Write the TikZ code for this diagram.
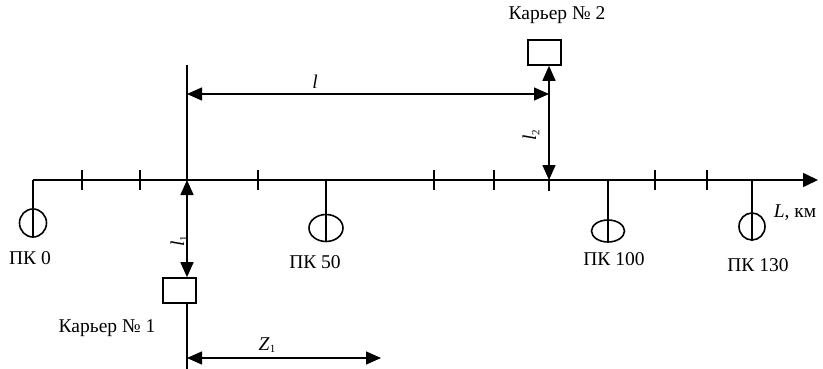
\documentclass[tikz,border=0pt]{standalone}
\usepackage{fontspec}
\setmainfont{Liberation Serif}
\usetikzlibrary{arrows.meta,shapes.geometric}
\begin{document}
\begin{tikzpicture}[x=1pt,y=-1pt,
  ln/.style={line width=1.6pt},
  dim/.style={line width=1.6pt,{Triangle[length=15pt,width=13pt]}-{Triangle[length=15pt,width=13pt]}},
  onearrow/.style={line width=1.6pt,-{Triangle[length=15pt,width=14pt]}},
  pk/.style={draw,line width=1.6pt,ellipse,inner sep=0pt},
  quarry/.style={draw,line width=1.6pt,rectangle,inner sep=0pt,minimum width=33pt,minimum height=25pt},
  lbl/.style={font=\fontsize{19.5}{22}\selectfont,inner sep=0pt},
  tick/.style={line width=1.6pt}]
\useasboundingbox (0,0) rectangle (823,369);
% axis points
\coordinate (a0) at (33,180);
\coordinate (aend) at (818,180);
\coordinate (c1) at (187,180);
\coordinate (c2) at (549,180);
\coordinate (c1top) at (187,65);
\coordinate (c1bot) at (187,369);
\coordinate (z1end) at (381,358);
\coordinate (z1start) at (187,358);
\coordinate (lA) at (187,94);
\coordinate (lB) at (549,94);
% stations
\node[pk,minimum width=27pt,minimum height=28pt] (pk0) at (33,223) {};
\node[pk,minimum width=34pt,minimum height=27pt] (pk50) at (326,228) {};
\node[pk,minimum width=33pt,minimum height=22pt] (pk100) at (608,231) {};
\node[pk,minimum width=26pt,minimum height=27pt] (pk130) at (752,226.5) {};
% quarries
\node[quarry] (q1) at (179.5,290.5) {};
\node[quarry] (q2) at (544.5,52.5) {};
% axis
\draw[onearrow] (a0) -- (aend);
\draw[ln] (a0) -- (pk0.south);
\draw[ln] (326,180) -- (pk50.south);
\draw[ln] (608,180) -- (pk100.south);
\draw[ln] (752,180) -- (pk130.south);
% ticks
\foreach \x in {82,140,258,434,494,655,707} \draw[tick] (\x,170) -- (\x,190);
\draw[tick] (549,180) -- (549,191);
% vertical at quarry 1
\draw[ln] (c1top) -- (c1);
\draw[dim] (c1) -- (c1 |- q1.north);
\draw[ln] (c1 |- q1.south) -- (c1bot);
\draw[dim] (z1start) -- (z1end);
% quarry 2
\draw[dim] (c2 |- q2.south) -- (c2);
\draw[dim] (lA) -- (lB);
% labels
\node[lbl] (t0) at (30,258) {ПК 0};
\node[lbl] (t50) at (315,262) {ПК 50};
\node[lbl] (t100) at (614,259) {ПК 100};
\node[lbl] (t130) at (758,265) {ПК 130};
\node[lbl] (tL) at (795,213) {\textit{L}, км};
\node[lbl] (tq1) at (107,328) {Карьер № 1};
\node[lbl] (tq2) at (557,15) {Карьер № 2};
\node[lbl] (tl) at (315,82) {\textit{l}};
\node[lbl,rotate=90] (tl1) at (179,241) {\textit{l}\raisebox{-0.35ex}{\fontsize{11}{11}\selectfont 1}};
\node[lbl,rotate=90] (tl2) at (531,135) {\textit{l}\raisebox{-0.35ex}{\fontsize{11}{11}\selectfont 2}};
\node[lbl] (tz) at (267,345) {\textit{Z}\raisebox{-0.3ex}{\fontsize{11}{11}\selectfont 1}};
\end{tikzpicture}
\end{document}
